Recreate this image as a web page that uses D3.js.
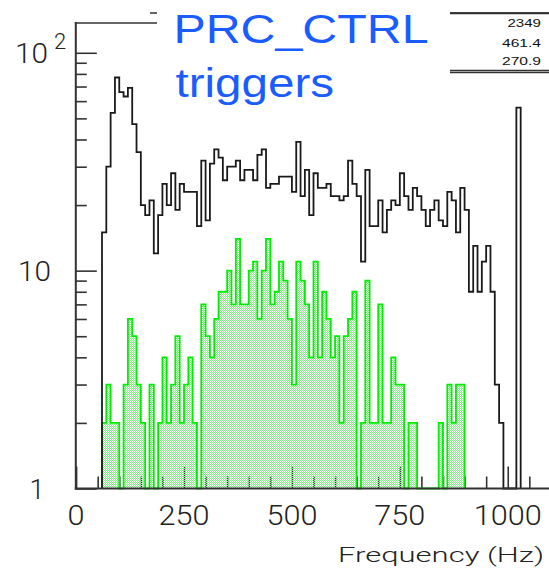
<!DOCTYPE html>
<html>
<head>
<meta charset="utf-8">
<script src="https://cdn.jsdelivr.net/npm/d3@7"></script>
<style>
  html, body { margin: 0; padding: 0; background: #fff; }
  svg { display: block; }
</style>
</head>
<body>
<svg id="chart" width="549" height="568"></svg>
<script>
// Histogram binning: 10 Hz bins starting at 0 Hz
const binStart = 0;
const binWidth = 10;

// All triggers, counts per bin (bin i covers [i*10, i*10+10) Hz)
const allTriggers = [
  0, 0, 0, 0, 0, 0,
  15, 30, 53, 77, 66, 63, 69, 47, 35, 20,
  18, 21, 12, 18, 25, 20, 28, 19, 25, 23,
  23, 23, 16, 32, 17, 31, 36, 33, 26, 30,
  30, 32, 26, 29, 29, 26, 34, 36, 24, 25,
  25, 27, 27, 27, 23, 39, 22, 29, 18, 28,
  24, 24, 25, 22, 22, 21, 22, 32, 25, 22,
  11, 29, 16, 16, 21, 15, 19, 21, 20, 28,
  22, 19, 24, 22, 19, 16, 19, 21, 17, 16,
  23, 21, 15, 24, 19, 8, 13, 8, 11, 13,
  8, 3, 2, 0, 0, 0, 56
];

// PRC_CTRL triggers, counts per bin
const prcCtrl = [
  0, 0, 0, 0, 0, 0,
  2, 3, 2, 2, 0, 3, 6, 5, 3, 2,
  0, 3, 0, 2, 4, 2, 3, 5, 2, 3,
  4, 2, 0, 7, 5, 4, 6, 8, 8, 10,
  7, 14, 7, 7, 10, 11, 6, 10, 14, 7,
  8, 11, 9, 6, 3, 11, 9, 7, 4, 11,
  4, 8, 6, 4, 5, 2, 5, 6, 8, 0,
  2, 9, 2, 2, 7, 2, 2, 4, 3, 3,
  0, 2, 2, 0, 0, 0, 0, 0, 2, 0,
  3, 2, 3, 3
];

// Axis ticks and labels
const xMajorTicks = [0, 250, 500, 750, 1000];
const xMinorTicks = [50, 100, 150, 200, 300, 350, 400, 450, 550, 600, 650, 700, 800, 850, 900, 950, 1050];
const xTickLabels = ["0", "250", "500", "750", "1000"];
const yMajorTicks = [1, 10, 100];
const yMinorTicks = [2, 3, 4, 5, 6, 7, 8, 9, 20, 30, 40, 50, 60, 70, 80, 90];
const xTitle = "Frequency (Hz)";

// Statistics box values (entries, mean, RMS)
const statsValues = ["2349", "461.4", "270.9"];
const titleLines = ["PRC_CTRL", "triggers"];

const svg = d3.select("#chart");
const axisColor = "#333";

const x = d3.scaleLinear().domain([0, 1100]).range([76.1, 550.9]);
const y = d3.scaleLog().domain([1, 137]).range([488.5, 23]).clamp(true);

// Dotted fill pattern for the PRC_CTRL histogram
const defs = svg.append("defs");
const pat = defs.append("pattern")
  .attr("id", "dots").attr("patternUnits", "userSpaceOnUse")
  .attr("width", 2).attr("height", 2);
pat.append("rect").attr("x", 0).attr("y", 0).attr("width", 1).attr("height", 1).attr("fill", "#86ec86");
pat.append("rect").attr("x", 1).attr("y", 1).attr("width", 1).attr("height", 1).attr("fill", "#86ec86");

function stepPoints(counts) {
  const first = counts.findIndex(v => v > 0);
  let last = counts.length - 1;
  while (counts[last] <= 0) last--;
  const pts = [[x(binStart + first * binWidth), y(1)]];
  for (let i = first; i <= last; i++) {
    const yy = y(Math.max(counts[i], 1));
    pts.push([x(binStart + i * binWidth), yy], [x(binStart + (i + 1) * binWidth), yy]);
  }
  pts.push([x(binStart + (last + 1) * binWidth), y(1)]);
  return pts;
}
const line = d3.line();

// Axis ticks (drawn under the dotted fill)
const xAxisMajor = d3.axisBottom(x).tickValues(xMajorTicks).tickSize(-22).tickFormat("");
const xAxisMinor = d3.axisBottom(x).tickValues(xMinorTicks).tickSize(-12).tickFormat("");
const yAxisMajor = d3.axisLeft(y).tickValues(yMajorTicks).tickSize(-21).tickFormat("");
const yAxisMinor = d3.axisLeft(y).tickValues(yMinorTicks).tickSize(-11).tickFormat("");

function styleAxis(g) {
  g.select(".domain").remove();
  g.selectAll(".tick line").attr("stroke", axisColor).attr("stroke-width", 1.6);
}
svg.append("g").attr("transform", `translate(0,${y(1)})`).call(xAxisMajor).call(styleAxis);
svg.append("g").attr("transform", `translate(0,${y(1)})`).call(xAxisMinor).call(styleAxis);
svg.append("g").attr("transform", `translate(75.8,0)`).call(yAxisMajor).call(styleAxis);
svg.append("g").attr("transform", `translate(75.8,0)`).call(yAxisMinor).call(styleAxis);

// PRC_CTRL histogram: dotted fill + green outline
const gPts = stepPoints(prcCtrl);
svg.append("path").attr("d", line(gPts) + "Z").attr("fill", "url(#dots)").attr("stroke", "none");
svg.append("path").attr("d", line(gPts)).attr("fill", "none")
  .attr("stroke", "#00ee00").attr("stroke-width", 1.8).attr("stroke-linejoin", "miter");

// All-triggers histogram outline
svg.append("path").attr("d", line(stepPoints(allTriggers))).attr("fill", "none")
  .attr("stroke", "#1a1a1a").attr("stroke-width", 1.8).attr("stroke-linejoin", "miter");

// Frame lines: x axis, y axis, top edge
svg.append("line").attr("x1", 74.8).attr("x2", 549).attr("y1", y(1)).attr("y2", y(1))
  .attr("stroke", axisColor).attr("stroke-width", 2);
svg.append("line").attr("x1", 75.8).attr("x2", 75.8).attr("y1", 22).attr("y2", y(1) + 1)
  .attr("stroke", axisColor).attr("stroke-width", 2);
svg.append("line").attr("x1", 74.8).attr("x2", 549).attr("y1", 23).attr("y2", 23)
  .attr("stroke", axisColor).attr("stroke-width", 1.6);
svg.append("line").attr("x1", 150).attr("x2", 549).attr("y1", 13).attr("y2", 13)
  .attr("stroke", axisColor).attr("stroke-width", 1.6);

// X tick labels
const labelFont = "Roboto, 'Liberation Sans', sans-serif";
svg.append("g").selectAll("text").data(xMajorTicks).join("text")
  .attr("x", d => x(d)).attr("y", 525)
  .attr("text-anchor", "middle")
  .attr("font-family", labelFont).attr("font-weight", 300).attr("font-size", 27)
  .attr("fill", "#222")
  .attr("textLength", (d, i) => 17 * xTickLabels[i].length)
  .attr("lengthAdjust", "spacingAndGlyphs")
  .text((d, i) => xTickLabels[i]);

// X axis title
svg.append("text")
  .attr("x", 544).attr("y", 562).attr("text-anchor", "end")
  .attr("font-family", labelFont).attr("font-weight", 300).attr("font-size", 21)
  .attr("fill", "#222")
  .attr("textLength", 206).attr("lengthAdjust", "spacingAndGlyphs")
  .text(xTitle);

// Y tick labels: 1, 10, 10^2
const yLab = svg.append("g").attr("font-family", labelFont).attr("font-weight", 300)
  .attr("fill", "#222").attr("font-size", 27);
yLab.append("text").attr("x", 44.5).attr("y", y(1) + 10).attr("text-anchor", "end")
  .text(String(yMajorTicks[0]));
yLab.append("text").attr("x", 51).attr("y", y(10) + 10).attr("text-anchor", "end")
  .attr("textLength", 33).attr("lengthAdjust", "spacingAndGlyphs")
  .text(String(yMajorTicks[1]));
yLab.append("text").attr("x", 48).attr("y", y(100) + 10).attr("text-anchor", "end")
  .attr("textLength", 33).attr("lengthAdjust", "spacingAndGlyphs")
  .text("10");
yLab.append("text").attr("x", 54).attr("y", y(100) - 4).attr("font-size", 22)
  .text("2");

// Title box
svg.append("rect").attr("x", 157).attr("y", 0).attr("width", 293).attr("height", 118).attr("fill", "#fff");
const titleColor = "#1a5cff";
svg.append("text").attr("x", 173.5).attr("y", 43)
  .attr("font-family", "'Liberation Sans', Arial, sans-serif").attr("font-size", 40)
  .attr("fill", titleColor).attr("textLength", 255).attr("lengthAdjust", "spacingAndGlyphs")
  .text(titleLines[0]);
svg.append("text").attr("x", 175.5).attr("y", 97)
  .attr("font-family", "'Liberation Sans', Arial, sans-serif").attr("font-size", 40)
  .attr("fill", titleColor).attr("textLength", 158.5).attr("lengthAdjust", "spacingAndGlyphs")
  .text(titleLines[1]);

// Statistics box
const sb = svg.append("g");
sb.append("rect").attr("x", 450).attr("y", 13).attr("width", 99).attr("height", 58).attr("fill", "#fff");
sb.append("line").attr("x1", 450).attr("x2", 549).attr("y1", 13.3).attr("y2", 13.3)
  .attr("stroke", axisColor).attr("stroke-width", 2);
sb.append("line").attr("x1", 450).attr("x2", 549).attr("y1", 70.5).attr("y2", 70.5)
  .attr("stroke", axisColor).attr("stroke-width", 1.5);
sb.append("line").attr("x1", 450).attr("x2", 549).attr("y1", 72.5).attr("y2", 72.5)
  .attr("stroke", axisColor).attr("stroke-width", 1.5);
const statY = [27.3, 46.5, 65];
const statW = [33.5, 39, 39];
sb.selectAll("text.stat").data(statsValues).join("text").attr("class", "stat")
  .attr("x", 541).attr("y", (d, i) => statY[i]).attr("text-anchor", "end")
  .attr("font-family", "'Liberation Sans', Arial, sans-serif").attr("font-size", 11.5)
  .attr("fill", "#111")
  .attr("textLength", (d, i) => statW[i]).attr("lengthAdjust", "spacingAndGlyphs")
  .text(d => d);
</script>
</body>
</html>
